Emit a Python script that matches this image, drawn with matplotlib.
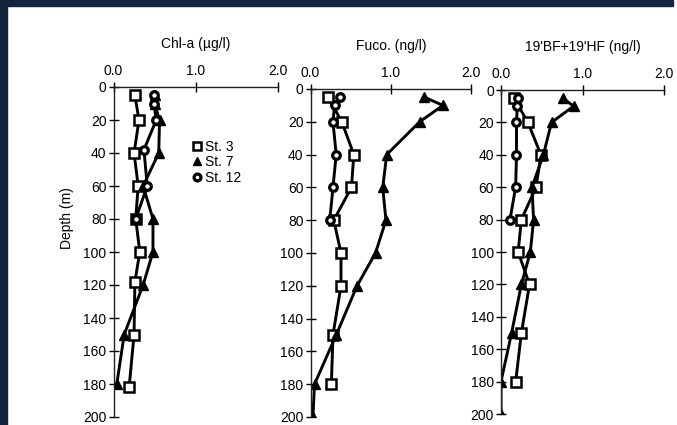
import matplotlib
matplotlib.use("Agg")
import matplotlib.pyplot as plt
from matplotlib.patches import Rectangle

plt.rcParams['font.family'] = ['Liberation Sans', 'DejaVu Sans']

# depth profiles
panel_titles = ["Chl-a (\u00b5g/l)", "Fuco. (ng/l)", "19'BF+19'HF (ng/l)"]
station_labels = ["St. 3", "St. 7", "St. 12"]
x_ticks = [0.0, 1.0, 2.0]
x_ticklabels = ["0.0", "1.0", "2.0"]
y_ticks = [0, 20, 40, 60, 80, 100, 120, 140, 160, 180, 200]

chl_st3_depth = [5, 20, 40, 60, 80, 100, 118, 150, 182]
chl_st3 = [0.26, 0.31, 0.25, 0.30, 0.27, 0.32, 0.26, 0.25, 0.19]
chl_st7_depth = [5, 10, 20, 40, 60, 80, 100, 120, 150, 180]
chl_st7 = [0.50, 0.50, 0.56, 0.55, 0.36, 0.48, 0.48, 0.36, 0.13, 0.04]
chl_st12_depth = [5, 10, 20, 38, 60, 80]
chl_st12 = [0.49, 0.49, 0.52, 0.37, 0.41, 0.27]

fuco_st3_depth = [5, 20, 40, 60, 80, 100, 120, 150, 180]
fuco_st3 = [0.22, 0.39, 0.54, 0.51, 0.29, 0.38, 0.38, 0.28, 0.26]
fuco_st7_depth = [5, 10, 20, 40, 60, 80, 100, 120, 150, 180, 200]
fuco_st7 = [1.42, 1.65, 1.36, 0.95, 0.90, 0.94, 0.81, 0.58, 0.32, 0.05, 0.03]
fuco_st12_depth = [5, 10, 20, 40, 60, 80]
fuco_st12 = [0.37, 0.30, 0.28, 0.32, 0.28, 0.24]

hf_st3_depth = [5, 20, 40, 60, 80, 100, 120, 150, 180]
hf_st3 = [0.16, 0.33, 0.49, 0.43, 0.25, 0.21, 0.35, 0.25, 0.18]
hf_st7_depth = [5, 10, 20, 40, 60, 80, 100, 120, 150, 180, 200]
hf_st7 = [0.76, 0.89, 0.62, 0.52, 0.38, 0.40, 0.36, 0.25, 0.13, 0.0, 0.0]
hf_st12_depth = [5, 10, 20, 40, 60, 80]
hf_st12 = [0.21, 0.20, 0.19, 0.19, 0.18, 0.11]

panels = [
    [(chl_st3, chl_st3_depth), (chl_st7, chl_st7_depth), (chl_st12, chl_st12_depth)],
    [(fuco_st3, fuco_st3_depth), (fuco_st7, fuco_st7_depth), (fuco_st12, fuco_st12_depth)],
    [(hf_st3, hf_st3_depth), (hf_st7, hf_st7_depth), (hf_st12, hf_st12_depth)],
]

W, H = 677, 425
fig = plt.figure(figsize=(W / 100, H / 100), dpi=100)
fig.patch.set_facecolor('white')

# navy frame strips (top and left)
navy = '#13243f'
fig.patches.append(Rectangle((0, 1 - 6 / H), 673 / W, 6 / H, transform=fig.transFigure,
                             color=navy, zorder=0))
fig.patches.append(Rectangle((0, 0), 7 / W, 1, transform=fig.transFigure,
                             color=navy, zorder=0))

# axes boxes in pixels: left, right, top(depth 0), bottom(depth 200)
boxes = [(113.5, 278, 87, 417), (310.5, 471, 89, 417), (501, 664, 90, 414)]

styles = [
    dict(marker='s', ms=7, mfc='white', mec='black', mew=1.8),
    dict(marker='^', ms=7, mfc='black', mec='black', mew=1.0),
    dict(marker='o', ms=5.5, mfc='white', mec='black', mew=2.3),
]

fs = 10
axes = []
for k, (l, r, t, b) in enumerate(boxes):
    ax = fig.add_axes([l / W, 1 - b / H, (r - l) / W, (b - t) / H])
    for (vals, depth), st, lab in zip(panels[k], styles, station_labels):
        ax.plot(vals, depth, color='black', lw=2.1, label=lab, **st)
    ax.set_xlim(0, 2)
    ax.set_ylim(200, 0)
    ax.xaxis.tick_top()
    ax.set_xticks(x_ticks)
    ax.set_xticklabels(x_ticklabels)
    ax.set_yticks(y_ticks)
    for s in ['right', 'bottom']:
        ax.spines[s].set_visible(False)
    for s in ['left', 'top']:
        ax.spines[s].set_linewidth(1.0)
        ax.spines[s].set_color('#222222')
    ax.tick_params(axis='both', direction='inout', length=7, width=1.0,
                   labelsize=fs, colors='black', pad=1.5)
    ax.tick_params(axis='x', pad=3)
    ax.patch.set_alpha(0)
    ax.set_title(panel_titles[k], fontsize=fs, pad=28)
    axes.append(ax)

fig.text(67 / W, 1 - 218 / H, "Depth (m)", rotation=90, fontsize=fs,
         ha='center', va='center')

axes[0].legend(loc='upper left', bbox_to_anchor=(186 / W, 1 - 133 / H),
               bbox_transform=fig.transFigure, frameon=False, fontsize=fs,
               handlelength=0.6, handletextpad=0.3, labelspacing=0.1,
               borderpad=0, markerscale=0.9)
for line in axes[0].get_legend().get_lines():
    line.set_linestyle('none')

fig.savefig("out.png", dpi=100)
